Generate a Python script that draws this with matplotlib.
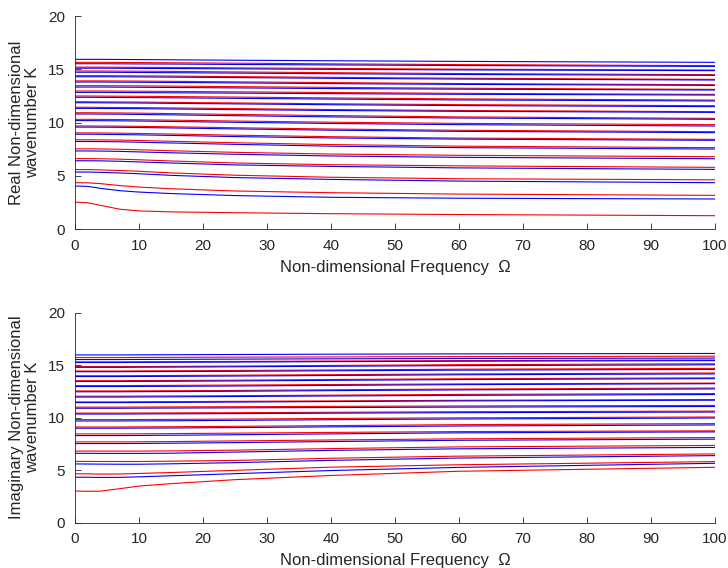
import matplotlib
matplotlib.use("Agg")
import matplotlib.pyplot as plt

plt.rcParams['font.family'] = ['Liberation Sans', 'DejaVu Sans']

# non-dimensional frequency samples (read-off points)
omega = [0, 2, 4, 7, 10, 15, 25, 40, 60, 100]

# real part of K: red and blue branches
real_red = [
    [2.52, 2.47, 2.22, 1.86, 1.70, 1.61, 1.53, 1.44, 1.36, 1.25],
    [4.35, 4.34, 4.26, 4.08, 3.94, 3.78, 3.57, 3.41, 3.28, 3.16],
    [5.58, 5.58, 5.55, 5.49, 5.42, 5.27, 5.05, 4.86, 4.72, 4.62],
    [6.61, 6.61, 6.60, 6.56, 6.50, 6.39, 6.20, 6.04, 5.93, 5.79],
    [7.53, 7.53, 7.52, 7.49, 7.44, 7.35, 7.20, 7.04, 6.92, 6.79],
    [8.38, 8.38, 8.37, 8.35, 8.31, 8.24, 8.10, 7.93, 7.78, 7.64],
    [9.03, 9.03, 9.02, 9.00, 8.97, 8.92, 8.81, 8.67, 8.54, 8.42],
    [9.68, 9.68, 9.67, 9.66, 9.64, 9.60, 9.51, 9.39, 9.27, 9.14],
    [10.30, 10.30, 10.29, 10.28, 10.26, 10.22, 10.14, 10.03, 9.92, 9.80],
    [10.92, 10.92, 10.91, 10.90, 10.88, 10.84, 10.76, 10.65, 10.53, 10.39],
    [11.43, 11.43, 11.42, 11.41, 11.40, 11.37, 11.31, 11.22, 11.13, 11.02],
    [11.95, 11.95, 11.94, 11.93, 11.92, 11.89, 11.84, 11.76, 11.68, 11.58],
    [12.49, 12.49, 12.48, 12.47, 12.46, 12.44, 12.39, 12.31, 12.22, 12.11],
    [12.96, 12.96, 12.96, 12.95, 12.94, 12.92, 12.88, 12.82, 12.74, 12.64],
    [13.46, 13.46, 13.46, 13.45, 13.44, 13.42, 13.37, 13.30, 13.22, 13.11],
    [13.91, 13.91, 13.91, 13.90, 13.89, 13.87, 13.82, 13.75, 13.66, 13.55],
    [14.40, 14.40, 14.40, 14.39, 14.38, 14.36, 14.31, 14.24, 14.16, 14.05],
    [14.84, 14.84, 14.84, 14.83, 14.82, 14.80, 14.75, 14.68, 14.60, 14.49],
    [15.20, 15.20, 15.20, 15.19, 15.18, 15.17, 15.13, 15.08, 15.01, 14.93],
    [15.65, 15.65, 15.65, 15.64, 15.63, 15.61, 15.57, 15.51, 15.44, 15.34],
]
real_blue = [
    [4.04, 4.00, 3.82, 3.60, 3.47, 3.33, 3.14, 2.98, 2.89, 2.82],
    [5.35, 5.35, 5.32, 5.26, 5.19, 5.04, 4.83, 4.66, 4.50, 4.35],
    [6.41, 6.41, 6.40, 6.36, 6.30, 6.20, 6.02, 5.88, 5.74, 5.60],
    [7.33, 7.33, 7.32, 7.29, 7.24, 7.16, 7.02, 6.86, 6.73, 6.60],
    [8.22, 8.22, 8.21, 8.19, 8.15, 8.08, 7.95, 7.78, 7.64, 7.51],
    [8.90, 8.90, 8.89, 8.87, 8.84, 8.79, 8.68, 8.55, 8.44, 8.33],
    [9.57, 9.57, 9.56, 9.55, 9.53, 9.49, 9.40, 9.28, 9.17, 9.05],
    [10.18, 10.18, 10.17, 10.16, 10.14, 10.10, 10.02, 9.91, 9.80, 9.67],
    [10.80, 10.80, 10.79, 10.78, 10.76, 10.72, 10.64, 10.53, 10.42, 10.30],
    [11.33, 11.33, 11.32, 11.31, 11.30, 11.27, 11.21, 11.13, 11.05, 10.95],
    [11.86, 11.86, 11.85, 11.84, 11.83, 11.80, 11.75, 11.67, 11.59, 11.49],
    [12.37, 12.37, 12.36, 12.35, 12.34, 12.32, 12.27, 12.20, 12.12, 12.02],
    [12.83, 12.83, 12.83, 12.82, 12.81, 12.79, 12.76, 12.71, 12.65, 12.58],
    [13.33, 13.33, 13.33, 13.32, 13.31, 13.29, 13.25, 13.19, 13.13, 13.05],
    [13.80, 13.80, 13.80, 13.79, 13.78, 13.76, 13.72, 13.65, 13.58, 13.49],
    [14.30, 14.30, 14.30, 14.29, 14.28, 14.26, 14.22, 14.15, 14.08, 13.99],
    [14.72, 14.72, 14.72, 14.71, 14.70, 14.68, 14.64, 14.58, 14.51, 14.43],
    [15.10, 15.10, 15.10, 15.09, 15.08, 15.07, 15.04, 14.99, 14.94, 14.87],
    [15.52, 15.52, 15.52, 15.51, 15.50, 15.49, 15.45, 15.41, 15.35, 15.27],
    [15.93, 15.93, 15.93, 15.92, 15.91, 15.89, 15.85, 15.80, 15.74, 15.65],
]

# imaginary part of K
imag_red = [
    [3.00, 2.97, 2.99, 3.22, 3.47, 3.70, 4.08, 4.48, 4.88, 5.26],
    [4.64, 4.63, 4.61, 4.62, 4.67, 4.76, 4.97, 5.27, 5.50, 5.80],
    [5.82, 5.82, 5.81, 5.81, 5.81, 5.84, 5.91, 6.12, 6.32, 6.53],
    [6.80, 6.80, 6.80, 6.80, 6.80, 6.82, 6.89, 7.04, 7.20, 7.34],
    [7.68, 7.68, 7.68, 7.68, 7.69, 7.71, 7.77, 7.86, 7.97, 8.09],
    [8.44, 8.44, 8.44, 8.44, 8.45, 8.47, 8.51, 8.58, 8.66, 8.73],
    [9.10, 9.10, 9.10, 9.10, 9.11, 9.12, 9.16, 9.23, 9.32, 9.42],
    [9.80, 9.80, 9.80, 9.80, 9.81, 9.82, 9.85, 9.91, 9.97, 10.05],
    [10.42, 10.42, 10.42, 10.42, 10.43, 10.44, 10.46, 10.50, 10.55, 10.61],
    [10.99, 10.99, 10.99, 10.99, 11.00, 11.01, 11.03, 11.06, 11.10, 11.15],
    [11.49, 11.49, 11.49, 11.49, 11.50, 11.51, 11.54, 11.58, 11.64, 11.71],
    [12.03, 12.03, 12.03, 12.03, 12.04, 12.05, 12.08, 12.13, 12.20, 12.28],
    [12.53, 12.53, 12.53, 12.53, 12.54, 12.55, 12.58, 12.64, 12.71, 12.81],
    [13.04, 13.04, 13.04, 13.04, 13.05, 13.06, 13.09, 13.14, 13.20, 13.28],
    [13.51, 13.51, 13.51, 13.51, 13.52, 13.53, 13.56, 13.62, 13.69, 13.78],
    [13.98, 13.98, 13.98, 13.98, 13.99, 14.00, 14.03, 14.08, 14.15, 14.24],
    [14.43, 14.43, 14.43, 14.43, 14.44, 14.45, 14.48, 14.53, 14.60, 14.68],
    [14.85, 14.85, 14.85, 14.85, 14.86, 14.87, 14.90, 14.96, 15.03, 15.12],
    [15.30, 15.30, 15.30, 15.30, 15.31, 15.32, 15.34, 15.38, 15.42, 15.48],
    [15.71, 15.71, 15.71, 15.71, 15.72, 15.73, 15.75, 15.77, 15.80, 15.84],
]
imag_blue = [
    [4.32, 4.31, 4.29, 4.30, 4.35, 4.45, 4.65, 4.95, 5.25, 5.64],
    [5.58, 5.57, 5.56, 5.55, 5.55, 5.59, 5.70, 5.92, 6.14, 6.37],
    [6.59, 6.59, 6.58, 6.58, 6.58, 6.60, 6.71, 6.87, 7.02, 7.15],
    [7.52, 7.52, 7.52, 7.52, 7.53, 7.55, 7.61, 7.71, 7.83, 7.94],
    [8.28, 8.28, 8.28, 8.28, 8.29, 8.31, 8.36, 8.44, 8.54, 8.63],
    [8.98, 8.98, 8.98, 8.98, 8.99, 9.00, 9.04, 9.11, 9.19, 9.29],
    [9.67, 9.67, 9.67, 9.67, 9.68, 9.69, 9.73, 9.79, 9.86, 9.95],
    [10.33, 10.33, 10.33, 10.33, 10.34, 10.35, 10.37, 10.41, 10.46, 10.52],
    [10.88, 10.88, 10.88, 10.88, 10.89, 10.90, 10.92, 10.95, 10.99, 11.05],
    [11.42, 11.42, 11.42, 11.42, 11.43, 11.44, 11.47, 11.52, 11.58, 11.65],
    [11.95, 11.95, 11.95, 11.95, 11.96, 11.97, 12.00, 12.05, 12.11, 12.19],
    [12.45, 12.45, 12.45, 12.45, 12.46, 12.47, 12.50, 12.56, 12.63, 12.72],
    [12.95, 12.95, 12.95, 12.95, 12.96, 12.97, 13.00, 13.06, 13.13, 13.22],
    [13.43, 13.43, 13.43, 13.43, 13.44, 13.45, 13.48, 13.54, 13.61, 13.70],
    [13.90, 13.90, 13.90, 13.90, 13.91, 13.92, 13.95, 14.00, 14.07, 14.15],
    [14.36, 14.36, 14.36, 14.36, 14.37, 14.38, 14.40, 14.45, 14.51, 14.58],
    [14.78, 14.78, 14.78, 14.78, 14.79, 14.80, 14.83, 14.88, 14.94, 15.02],
    [15.24, 15.24, 15.24, 15.24, 15.25, 15.26, 15.28, 15.32, 15.36, 15.42],
    [15.52, 15.52, 15.52, 15.52, 15.53, 15.54, 15.56, 15.59, 15.62, 15.66],
    [15.96, 15.96, 15.96, 15.96, 15.97, 15.98, 16.00, 16.03, 16.06, 16.10],
]

xlabel = 'Non-dimensional Frequency  Ω'
ylabels = ['Real Non-dimensional\nwavenumber K', 'Imaginary Non-dimensional\nwavenumber K']

axcol = (0.15, 0.15, 0.15)

fig = plt.figure(figsize=(7.28, 5.68), dpi=100)
ax1 = fig.add_axes([0.1030, 0.5968, 0.8791, 0.3750])
ax2 = fig.add_axes([0.1030, 0.0801, 0.8791, 0.3697])

for ax, reds, blues, ylab in [(ax1, real_red, real_blue, ylabels[0]),
                              (ax2, imag_red, imag_blue, ylabels[1])]:
    for r in reds:
        ax.plot(omega, r, color=(1, 0, 0), lw=0.8)
    for b in blues:
        ax.plot(omega, b, color=(0, 0, 1), lw=0.8)

    ax.set_xlim(0, 100)
    ax.set_ylim(0, 20)
    ax.set_xticks(range(0, 101, 10))
    ax.set_yticks([0, 5, 10, 15, 20])
    ax.spines['top'].set_visible(False)
    ax.spines['right'].set_visible(False)
    for s in ('left', 'bottom'):
        ax.spines[s].set_color(axcol)
        ax.spines[s].set_linewidth(0.6)
    ax.tick_params(direction='in', length=4.5, width=0.6, color=axcol,
                   labelcolor=axcol, labelsize=11, pad=7)
    ax.set_xlabel(xlabel, fontsize=12, color=axcol, labelpad=5)
    ax.set_ylabel(ylab, fontsize=12, color=axcol, labelpad=6, linespacing=1.05)

fig.savefig('out.png', dpi=100)
